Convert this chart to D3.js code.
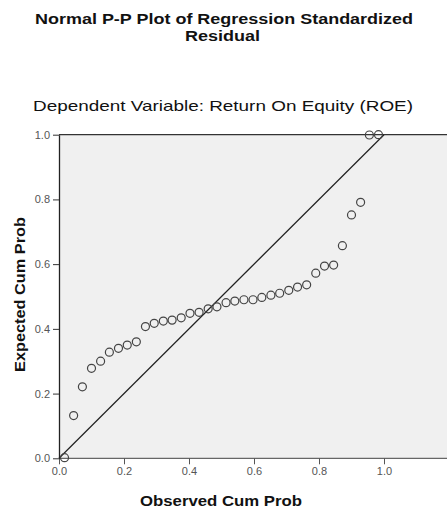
<!DOCTYPE html>
<html>
<head>
<meta charset="utf-8">
<script src="https://cdn.jsdelivr.net/npm/d3@7"></script>
<style>
  body { margin: 0; background: #fff; }
  svg { display: block; font-family: Arial, "Liberation Sans", sans-serif; }
  .tick text { fill: #555; font-size: 11px; }
  .title { font-weight: bold; font-size: 14px; fill: #111; }
  .subtitle { font-size: 15px; fill: #111; }
  .axis-label { font-weight: bold; font-size: 15px; fill: #111; }
</style>
</head>
<body>
<svg id="plot" width="447" height="510"></svg>
<script>
// observed vs expected cumulative probabilities
var observed = [0.017, 0.045, 0.072, 0.100, 0.128, 0.155, 0.183, 0.210, 0.238, 0.266,
                0.293, 0.321, 0.348, 0.376, 0.403, 0.431, 0.459, 0.486, 0.514, 0.541,
                0.569, 0.597, 0.624, 0.652, 0.679, 0.707, 0.734, 0.762, 0.790, 0.817,
                0.845, 0.872, 0.900, 0.928, 0.955, 0.983];
var expected = [0.002, 0.132, 0.221, 0.278, 0.300, 0.328, 0.340, 0.350, 0.360, 0.407,
                0.417, 0.424, 0.427, 0.434, 0.448, 0.451, 0.462, 0.468, 0.481, 0.486,
                0.490, 0.490, 0.497, 0.504, 0.510, 0.519, 0.529, 0.536, 0.572, 0.594,
                0.597, 0.657, 0.752, 0.791, 0.999, 1.000];
var ticks = [0.0, 0.2, 0.4, 0.6, 0.8, 1.0];
var refLine = [[0, 0], [1, 1]];

var svg = d3.select("#plot");
var plotLeft = 59, plotTop = 134.7, plotBottom = 458.3, plotRight = 460;

var x = d3.scaleLinear().domain([0, 1]).range([plotLeft, 384]);
var y = d3.scaleLinear().domain([0, 1]).range([plotBottom, plotTop]);

// text is drawn a bit wider than the font, like the reference
var addText = function (cls, cx, cy, str, width, rotate) {
  var t = svg.append("text").attr("class", cls)
    .attr("text-anchor", "middle")
    .attr("textLength", width)
    .attr("lengthAdjust", "spacingAndGlyphs")
    .text(str);
  if (rotate) {
    t.attr("transform", "translate(" + cx + "," + cy + ") rotate(-90)");
  } else {
    t.attr("x", cx).attr("y", cy);
  }
  return t;
}

// titles
addText("title", 224, 23.5, "Normal P-P Plot of Regression Standardized", 378);
addText("title", 222.5, 41, "Residual", 75);
addText("subtitle", 223, 111, "Dependent Variable: Return On Equity (ROE)", 380);

// plot background, runs off the right edge like the reference
svg.append("rect")
  .attr("x", plotLeft).attr("y", plotTop)
  .attr("width", plotRight - plotLeft).attr("height", plotBottom - plotTop)
  .attr("fill", "#f0f0f0");

svg.append("line")
  .attr("x1", plotLeft).attr("x2", plotRight)
  .attr("y1", plotTop).attr("y2", plotTop)
  .attr("stroke", "#333").attr("stroke-width", 1.2);

var xAxis = d3.axisBottom(x).tickValues(ticks).tickFormat(d3.format(".1f"))
  .tickSizeInner(6).tickSizeOuter(0).tickPadding(3);
var yAxis = d3.axisLeft(y).tickValues(ticks).tickFormat(d3.format(".1f"))
  .tickSizeInner(6).tickSizeOuter(0).tickPadding(3);

var gx = svg.append("g")
  .attr("transform", "translate(0," + plotBottom + ")")
  .call(xAxis);
gx.select(".domain").attr("d", "M" + plotLeft + ",0H" + plotRight)
  .attr("stroke", "#666").attr("stroke-width", 1.3);
gx.selectAll(".tick line").attr("stroke", "#555");

var gy = svg.append("g")
  .attr("transform", "translate(" + plotLeft + ",0)")
  .call(yAxis);
gy.select(".domain").attr("stroke", "#222").attr("stroke-width", 1.3);
gy.selectAll(".tick line").attr("stroke", "#333");

// diagonal reference
var line = d3.line()
  .x(function(d) { return x(d[0]); })
  .y(function(d) { return y(d[1]); });
svg.append("path")
  .datum(refLine)
  .attr("d", line)
  .attr("fill", "none")
  .attr("stroke", "#222")
  .attr("stroke-width", 1.2);

// points
svg.append("g").selectAll("circle")
  .data(observed)
  .join("circle")
  .attr("cx", function(d) { return x(d); })
  .attr("cy", function(d, i) { return y(expected[i]); })
  .attr("r", 4)
  .attr("fill", "none")
  .attr("stroke", "#444")
  .attr("stroke-width", 1.2);

// axis titles
addText("axis-label", 221, 506, "Observed Cum Prob", 162);
addText("axis-label", 25, 294.5, "Expected Cum Prob", 155, true);
</script>
</body>
</html>
